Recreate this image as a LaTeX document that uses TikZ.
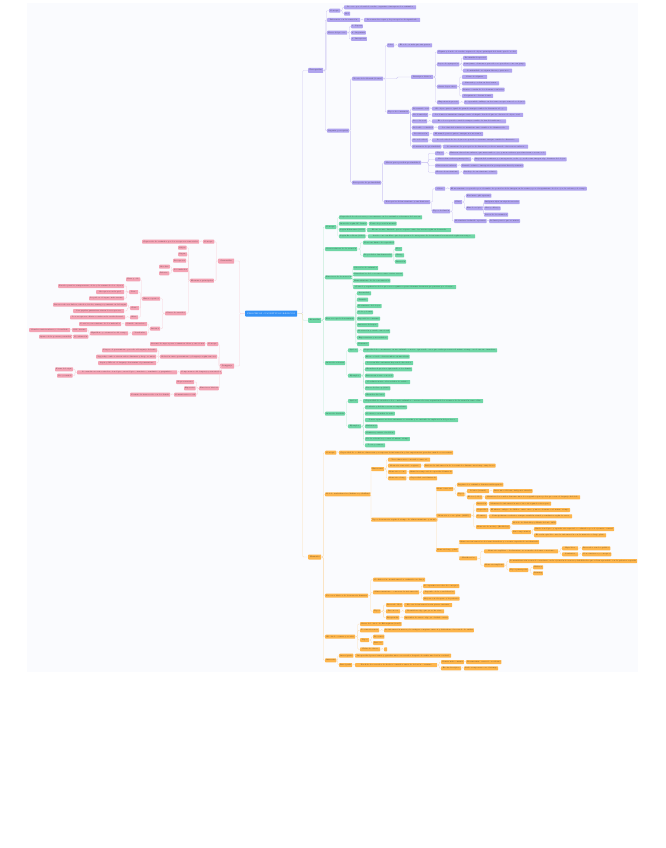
\documentclass[tikz,border=0pt]{standalone}
\usepackage{fontspec}
\usetikzlibrary{calc}
\definecolor{pufill}{HTML}{B0A4EE}
\definecolor{puline}{HTML}{CDC6F2}
\definecolor{grfill}{HTML}{6FD6A6}
\definecolor{grline}{HTML}{BDEBD5}
\definecolor{orfill}{HTML}{FDB54C}
\definecolor{orline}{HTML}{FCDDB0}
\definecolor{pkfill}{HTML}{F3A3B4}
\definecolor{pkline}{HTML}{F8D0D8}
\definecolor{cfill}{HTML}{3391F6}
\definecolor{bgc}{HTML}{FAFBFE}
\tikzset{
  bx/.style={rectangle, rounded corners=0.6pt, inner xsep=0.8pt, inner ysep=0pt,
    minimum height=4pt, anchor=west, font=\fontsize{1.7}{2}\selectfont},
  rt/.style={minimum height=5pt, font=\fontsize{1.9}{2.2}\selectfont},
  pu/.style={fill=pufill, text=pufill!30!black},
  gr/.style={fill=grfill, text=grfill!30!black},
  or/.style={fill=orfill, text=orfill!30!black},
  pk/.style={fill=pkfill, text=pkfill!30!black},
  lk/.style={line width=0.35pt, rounded corners=1pt},
  lpu/.style={lk, draw=puline},
  lgr/.style={lk, draw=grline},
  lor/.style={lk, draw=orline},
  lpk/.style={lk, draw=pkline}
}
\newcommand\nd[6][]{\pgfmathsetmacro\ndw{#4-#3}\node[bx,#1,minimum width=\ndw pt] (#2) at (#3,#5) {#6};}
\newcommand\lr[3][]{\draw[#1] (#2.east) let \p1=(#2.east), \p2=(#3.west) in -- ({(\x1+\x2)/2},\y1) |- (#3.west);}
\newcommand\lL[3][]{\draw[#1] (#2.west) let \p1=(#2.west), \p2=(#3.east) in -- ({(\x1+\x2)/2},\y1) |- (#3.east);}
\newcommand\kids[3][]{\foreach \kk in {#3}{\lr[#1]{#2}{\kk}}}
\newcommand\kidsl[3][]{\foreach \kk in {#3}{\lL[#1]{#2}{\kk}}}
\begin{document}
\begin{tikzpicture}[x=1pt,y=-1pt]
\useasboundingbox (0,0) rectangle (665,848);
\fill[bgc] (27,3) rectangle (638,672);
% central
\node[bx, fill=cfill, text=white, minimum width=52pt, minimum height=6pt, font=\fontsize{2.1}{2.5}\selectfont] (c) at (245,313.5) {PROCESOS COGNITIVOS BÁSICOS};
% ================= PURPLE
\nd[pu,rt]{p0}{308}{323}{70.5}{Percepción}
\nd[pu]{p1}{329}{339}{10.7}{Concepto}
\nd[pu]{p1a}{344}{416}{7.3}{Proceso por el cual el cerebro organiza e interpreta los estímulos}
\nd[pu]{p1b}{344}{350}{13.7}{Rol}
\nd[pu]{p2}{327}{360}{20}{Diferencia con la sensación}
\nd[pu]{p2a}{364}{420}{20}{La sensación capta y la percepción da significado}
\nd[pu]{p3}{327}{347}{32.7}{Fases del proceso}
\nd[pu]{p3a}{351}{362}{26.3}{1. Captar}
\nd[pu]{p3b}{351}{364}{32.7}{2. Organizar}
\nd[pu]{p3c}{351}{366}{39}{3. Interpretar}
\nd[pu]{p4}{327}{348}{130.7}{Organiz. perceptiva}
\nd[pu]{p41}{352}{383}{78.7}{Teoría de la Gestalt (forma)}
\nd[pu]{p411}{387}{394}{45.3}{Idea}
\nd[pu]{p411a}{398}{432}{45.3}{El todo es más que sus partes}
\nd[pu]{p412}{411}{433}{77}{Principios básicos}
\nd[pu]{p4121}{437}{517}{52}{Figura y fondo: el cerebro separa el objeto principal del fondo que lo rodea}
\nd[pu]{p4122}{437}{459}{64.3}{Leyes de agrupación}
\nd[pu]{p41221}{463}{487}{58}{Proximidad espacial}
\nd[pu]{p41222}{463}{524}{64.3}{Semejanza: elementos parecidos se perciben como un grupo}
\nd[pu]{p41223}{463}{512}{70.7}{Continuidad: se siguen líneas y patrones}
\nd[pu]{p4123}{437}{457}{86.7}{Otras leyes clave}
\nd[pu]{p41231}{462}{487}{77}{Cierre de figuras}
\nd[pu]{p41232}{462}{499}{83.3}{Simetría y orden en las formas}
\nd[pu]{p41233}{462}{504}{89.7}{Destino común de los elementos móviles}
\nd[pu]{p41234}{462}{493}{96}{Pregnancia o buena forma}
\nd[pu]{p4124}{437}{459}{102.3}{Experiencia previa}
\nd[pu]{p4124a}{464}{525}{102.3}{Lo aprendido influye en la forma en que vemos los objetos}
\nd[pu]{p413}{387}{407}{112}{Tipos de constancia}
\nd[pu]{p4131}{412}{428}{108.7}{De tamaño real}
\nd[pu]{p4131x}{432}{507}{108.7}{El objeto parece igual de grande aunque cambie la distancia al ojo}
\nd[pu]{p4132}{412}{428}{115}{De forma fija}
\nd[pu]{p4132x}{432}{523}{115}{La forma se mantiene aunque varíe el ángulo desde el que se observa el objeto real}
\nd[pu]{p4133}{412}{427}{121.3}{De color real}
\nd[pu]{p4133x}{432}{506}{121.3}{El color se percibe estable aunque cambie la luz del ambiente}
\nd[pu]{p4134}{412}{433}{127.7}{De brillo o claridad}
\nd[pu]{p4134x}{438}{509}{127.7}{La claridad relativa se mantiene ante cambios de iluminación}
\nd[pu]{p4135}{412}{429}{134}{De ubicación}
\nd[pu]{p4135x}{433}{483}{134}{El mundo parece quieto aunque nos movamos}
\nd[pu]{p4136}{412}{428}{140.3}{De velocidad}
\nd[pu]{p4136x}{432}{519}{140.3}{La velocidad de los objetos se percibe constante aunque cambie la distancia}
\nd[pu]{p4137}{412}{439}{146.7}{Constancia de profundidad}
\nd[pu]{p4137x}{443}{528}{146.7}{Se mantiene la percepción de distancia y relieve usando claves monoculares}
\nd[pu]{p42}{352}{380}{182.7}{Percepción de profundidad}
\nd[pu]{p421}{384}{421}{162.7}{Claves para percibir profundidad}
\nd[pu]{p4211}{435}{444}{153.3}{Tipos}
\nd[pu]{p4211x}{449}{546}{153.3}{Existen claves binoculares, que usan ambos ojos, y monoculares, que funcionan con uno solo}
\nd[pu]{p4212}{435}{471}{159.3}{Claves binoculares principales}
\nd[pu]{p4212x}{474}{566}{159.3}{Disparidad retiniana y convergencia: cada ojo recibe una imagen algo distinta del objeto}
\nd[pu]{p4213}{435}{457}{165.7}{Claves monoculares}
\nd[pu]{p4213x}{461}{523}{165.7}{Tamaño relativo, interposición, perspectiva lineal y textura}
\nd[pu]{p4214}{435}{459}{172.3}{Claves de movimiento}
\nd[pu]{p4214x}{463}{497}{172.3}{Paralaje de movimiento relativo}
\nd[pu]{p422}{384}{430}{202}{Percepción del movimiento y sus ilusiones}
\nd[pu]{p4221}{435}{445}{188.7}{Clave}
\nd[pu]{p4221x}{450}{586}{188.7}{El movimiento se percibe por el cambio de posición de la imagen en la retina y por el seguimiento de los ojos, la cabeza y el cuerpo}
\nd[pu]{p4222}{432}{450}{211.3}{Tipos de ilusión}
\nd[pu]{p42221}{454}{462}{202}{Clase}
\nd[pu]{p422211}{466}{489}{195.7}{Fenómeno phi aparente}
\nd[pu]{p422212}{466}{482}{208.3}{Estroboscópico}
\nd[pu]{p4222121}{484}{519}{202}{Imágenes fijas en rápida sucesión}
\nd[pu]{p4222122}{484}{500}{208.3}{Cine y dibujos}
\nd[pu]{p4222123}{484}{508}{214.7}{Luces de los anuncios}
\nd[pu]{p42222}{454}{484}{221}{Movimiento inducido aparente}
\nd[pu]{p42222x}{489}{517}{221}{La luna parece que se mueve}
% ================= GREEN
\nd[gr,rt]{g0}{308}{321}{320.3}{Atención}
\nd[gr]{g1}{325}{336}{227}{Concepto}
\nd[gr]{g1a}{339}{422}{217.3}{Capacidad de seleccionar y concentrarse en los estímulos relevantes del entorno}
\nd[gr]{g1b}{339}{365}{223.7}{Atención según W. James}
\nd[gr]{g1bx}{369}{394}{223.7}{Toma de posesión mental}
\nd[gr]{g1c}{339}{363}{230}{Según Kahneman (1973)}
\nd[gr]{g1cx}{367}{451}{230}{Es un recurso limitado que se reparte entre las tareas según su demanda}
\nd[gr]{g1d}{339}{363}{236.3}{Según Broadbent (1958)}
\nd[gr]{g1dx}{368}{475}{236.3}{Actúa como un filtro que deja pasar solo una parte de la información sensorial según sus rasgos}
\nd[gr]{g2}{325}{357}{249}{Características de la atención}
\nd[gr]{g2a}{363}{394}{242.7}{Tiene un límite de capacidad}
\nd[gr]{g2b}{363}{391}{255.3}{Propiedades fundamentales}
\nd[gr]{g2b1}{395}{402}{249}{Foco}
\nd[gr]{g2b2}{395}{404}{255.3}{Rango}
\nd[gr]{g2b3}{395}{405}{261.7}{Duración}
\nd[gr]{g3}{325}{349}{277.3}{Funciones de la atención}
\nd[gr]{g3a}{353}{378}{268}{Selección de estímulos}
\nd[gr]{g3b}{353}{403}{274.3}{Distribución de los recursos entre varias tareas}
\nd[gr]{g3c}{353}{387}{280.7}{Mantenimiento de la concentración}
\nd[gr]{g3d}{353}{456}{287}{Control y regulación de los procesos cognitivos para alcanzar las metas propuestas por el sujeto}
\nd[gr]{g4}{325}{353}{318.7}{Factores que la determinan}
\nd[gr]{g4a}{357}{371}{293.3}{Intensidad}
\nd[gr]{g4b}{357}{368}{299.7}{Tamaño}
\nd[gr]{g4c}{357}{379}{306}{Movimiento del objeto}
\nd[gr]{g4d}{357}{372}{312.3}{Color y forma}
\nd[gr]{g4e}{357}{379}{318.7}{Repetición constante}
\nd[gr]{g4f}{357}{378}{325}{Intereses del sujeto}
\nd[gr]{g4g}{357}{388}{331.3}{Motivación y estado emocional}
\nd[gr]{g4h}{357}{388}{337.7}{Expectativas y necesidades}
\nd[gr]{g4i}{357}{369}{344}{Cansancio}
\nd[gr]{g5}{325}{344}{363}{Atención selectiva}
\nd[gr]{g5a}{348}{358}{350.3}{Qué es}
\nd[gr]{g5ax}{363}{493}{350.3}{Capacidad de concentrarse en un estímulo concreto ignorando otros que están presentes al mismo tiempo en el entorno inmediato}
\nd[gr]{g5b}{348}{361}{375.7}{Ejemplos}
\nd[gr]{g5b1}{365}{407}{356.7}{Efecto cóctel: oír tu nombre en una fiesta}
\nd[gr]{g5b2}{365}{413}{363}{Leer un libro mientras hay ruido alrededor}
\nd[gr]{g5b3}{365}{412}{369.3}{Escuchar al profesor ignorando a los demás}
\nd[gr]{g5b4}{365}{393}{375.7}{Buscar un rostro conocido}
\nd[gr]{g5b5}{365}{410}{382}{Conducir atento a las señales de tráfico}
\nd[gr]{g5b6}{365}{387}{388.3}{Tarea de Stroop (1935)}
\nd[gr]{g5b7}{365}{385}{394.7}{Escucha dicótica}
\nd[gr]{g6}{325}{344}{413.7}{Atención dividida}
\nd[gr]{g6a}{348}{358}{401}{Qué es}
\nd[gr]{g6ax}{363}{483}{401}{Capacidad de atender a dos o más estímulos o tareas a la vez, repartiendo los recursos de la atención entre ellas}
\nd[gr]{g6b}{348}{361}{426.3}{Ejemplos}
\nd[gr]{g6b1}{365}{402}{407.3}{Conducir y hablar con un acompañante}
\nd[gr]{g6b2}{365}{392}{413.7}{Cocinar y escuchar la radio}
\nd[gr]{g6b3}{365}{458}{420}{Tomar apuntes en clase mientras se escucha y se entiende la explicación del profesor}
\nd[gr]{g6b4}{365}{376}{426.3}{Multitarea}
\nd[gr]{g6b5}{365}{395}{432.7}{Caminar y mirar el teléfono}
\nd[gr]{g6b6}{365}{408}{439}{Ver la televisión y comer al mismo tiempo}
\nd[gr]{g6b7}{365}{385}{445.3}{Tocar y cantar}
% ================= ORANGE
\nd[or,rt]{m0}{308}{321}{557}{Memoria}
\nd[or]{m1}{325}{335}{452.7}{Concepto}
\nd[or]{m1a}{339}{453}{452.7}{Capacidad de codificar, almacenar y recuperar la información y las experiencias pasadas cuando se necesitan}
\nd[or]{m2}{325}{367}{494.3}{Modelo multialmacén (Atkinson y Shiffrin)}
\nd[or]{m21}{371}{384}{469}{Estructura}
\nd[or]{m21a}{388}{430}{459.7}{Tres almacenes conectados entre sí}
\nd[or]{m21b}{388}{421}{465.7}{Memoria sensorial o registro}
\nd[or]{m21bx}{424}{492}{465.7}{Retiene la información de los sentidos durante un tiempo muy breve}
\nd[or]{m21c}{388}{405}{472}{Memoria a corto}
\nd[or]{m21cx}{409}{447}{472}{Almacén temporal de capacidad limitada}
\nd[or]{m21d}{388}{405}{478.3}{Memoria a largo}
\nd[or]{m21dx}{409}{437}{478.3}{Capacidad casi ilimitada}
\nd[or]{m22}{371}{433}{519.7}{Tipos de memoria según el tiempo de almacenamiento y su uso}
\nd[or]{m221}{436}{453}{489}{Mem. sensorial}
\nd[or]{m221a}{457}{502}{484.7}{Registra los estímulos durante milisegundos}
\nd[or]{m221b}{457}{463}{494.3}{Tipos}
\nd[or]{m221b1}{467}{489}{491}{Icónica (visual)}
\nd[or]{m221b1x}{493}{532}{491}{Dura unos 250 ms, imágenes visuales}
\nd[or]{m221b2}{467}{482}{497.3}{Ecoica (oído)}
\nd[or]{m221b2x}{485}{580}{497.3}{Mantiene los sonidos durante unos dos segundos para poder procesar el lenguaje hablado}
\nd[or]{m222}{436}{471}{515.7}{Memoria a corto plazo (MCP)}
\nd[or]{m222a}{476}{486}{503.7}{Duración}
\nd[or]{m222ax}{489}{551}{503.7}{Mantiene la información unos 18 a 30 segundos sin repaso}
\nd[or]{m222b}{476}{487}{510}{Capacidad}
\nd[or]{m222bx}{490}{569}{510}{El número mágico de Miller: entre cinco y nueve elementos al mismo tiempo}
\nd[or]{m222c}{476}{487}{516.3}{Formato}
\nd[or]{m222cx}{489}{572}{516.3}{Principalmente acústica, aunque también visual y semántica según la tarea}
\nd[or]{m222d}{476}{507}{527}{Memoria de trabajo (Baddeley)}
\nd[or]{m222d1}{512}{552}{522.7}{Modelo de Baddeley y Hitch del año 1974}
\nd[or]{m222d2}{512}{530}{532}{Sus componentes}
\nd[or]{m222d2a}{534}{614}{529}{Bucle fonológico y agenda visoespacial, coordinados por el ejecutivo central}
\nd[or]{m222d2b}{534}{606}{535.3}{El retén episódico une la información con la memoria a largo plazo}
\nd[or]{m223}{436}{455}{550}{Memoria largo plazo}
\nd[or]{m223a}{459}{534}{542}{Almacena información de forma duradera y con una capacidad casi ilimitada}
\nd[or]{m223b}{459}{477}{558.3}{Clasificación}
\nd[or]{m223b1}{484}{558}{551.3}{Memoria explícita o declarativa: se recuerda de forma consciente}
\nd[or]{m223b1a}{562}{578}{548.3}{Episódica}
\nd[or]{m223b1ax}{582}{608}{548.3}{Recuerdos autobiográficos}
\nd[or]{m223b1b}{562}{578}{554.3}{Semántica}
\nd[or]{m223b1bx}{582}{610}{554.3}{Conocimientos y conceptos}
\nd[or]{m223b2}{484}{504}{565.3}{Memoria implícita}
\nd[or]{m223b2a}{509}{635}{561}{Se manifiesta sin recuerdo consciente, en la ejecución de tareas y habilidades que se han aprendido con la práctica repetida}
\nd[or]{m223b2b}{509}{528}{570}{Tipos principales}
\nd[or]{m223b2b1}{533}{543}{567.3}{Hábitos}
\nd[or]{m223b2b2}{533}{542}{573.3}{Priming}
\nd[or]{m3}{325}{368}{595.7}{Procesos básicos de la memoria humana}
\nd[or]{m3a}{373}{425}{579.7}{Codificación: transformar los estímulos en datos}
\nd[or]{m3b}{373}{419}{592.3}{Almacenamiento: conservar la información}
\nd[or]{m3b1}{423}{459}{586}{Se organiza en redes de conceptos}
\nd[or]{m3b2}{423}{455}{592.3}{Depende de la consolidación}
\nd[or]{m3b3}{423}{457}{598.7}{Mejora con el repaso y la práctica}
\nd[or]{m3c}{373}{380}{611.3}{Tipos}
\nd[or]{m3c1}{386}{400}{605}{Recuerdo libre}
\nd[or]{m3c1x}{404}{452}{605}{Evocar la información sin pistas externas}
\nd[or]{m3c2}{386}{400}{611.3}{Reconocer}
\nd[or]{m3c2x}{405}{444}{611.3}{Identificar algo que ya se ha visto}
\nd[or]{m3c3}{386}{399}{617.7}{Reaprender}
\nd[or]{m3c3x}{404}{447}{617.7}{Aprender de nuevo algo ya olvidado antes}
\nd[or]{m4}{325}{355}{636.7}{El olvido: causas y teorías}
\nd[or]{m4a}{360}{399}{624}{Curva del olvido de Ebbinghaus (1885)}
\nd[or]{m4b}{360}{379}{630.3}{Por interferencia}
\nd[or]{m4bx}{384}{470}{630.3}{La información nueva y la antigua compiten entre sí y dificultan el recuerdo de ambas}
\nd[or]{m4c}{360}{369}{640}{Tipos}
\nd[or]{m4c1}{373}{383}{636.7}{Proactiva}
\nd[or]{m4c2}{373}{382}{643}{Retroac.}
\nd[or]{m4d}{360}{380}{649.3}{Falta de claves}
\nd[or]{m4dx}{384}{387}{649.3}{}
\nd[or]{m5}{325}{335}{660.3}{Amnesias}
\nd[or]{m5a}{339}{352}{655.7}{Anterógrada}
\nd[or]{m5ax}{355}{451}{655.7}{Incapacidad para formar y guardar nuevos recuerdos después de sufrir una lesión cerebral}
\nd[or]{m5b}{339}{352}{665}{Retrógrada}
\nd[or]{m5bx}{355}{437}{665}{Pérdida de recuerdos de hechos ocurridos antes de la lesión o trauma}
\nd[or]{m5bx1}{441}{462}{662}{Causas más comunes}
\nd[or]{m5bx1x}{466}{499}{662}{Traumatismo craneal o accidente}
\nd[or]{m5bx2}{441}{461}{668.3}{Evolución típica}
\nd[or]{m5bx2x}{464}{497}{668.3}{Suele recuperarse con el tiempo}
% ================= PINK (left)
\nd[pk,rt]{s0}{218}{234}{261}{Sensación}
\nd[pk]{s1}{203}{214}{241.7}{Concepto}
\nd[pk]{s1a}{142}{199}{241.7}{Captación de estímulos por los receptores sensoriales}
\nd[pk]{s2}{190}{213}{280.7}{Elementos principales}
\nd[pk]{s2a}{178}{186}{247.7}{Objeto}
\nd[pk]{s2b}{178}{186}{254.3}{Órgano}
\nd[pk]{s2c}{173}{186}{260.7}{Receptores}
\nd[pk]{s2d}{173}{186}{270}{Los umbrales}
\nd[pk]{s2d1}{159}{168}{266.7}{Absoluto}
\nd[pk]{s2d2}{159}{168}{273.3}{Relativo}
\nd[pk]{s2e}{165}{186}{313.3}{Clases de sentidos}
\nd[pk]{s2e1}{142}{160}{298.7}{Exteroceptivos}
\nd[pk]{s2e1a}{126}{139}{279.3}{Vista y oído}
\nd[pk]{s2e1b}{129}{138}{292}{Tacto}
\nd[pk]{s2e1b1}{58}{124}{286}{Percibe presión, temperatura, dolor y la textura de los objetos}
\nd[pk]{s2e1b2}{96}{124}{292}{Receptores en la piel}
\nd[pk]{s2e1b3}{89}{124}{298.3}{La piel es el órgano más extenso}
\nd[pk]{s2e1c}{130}{139}{308}{Gusto}
\nd[pk]{s2e1c1}{53}{124}{304.7}{Detecta sabores dulces, salados, ácidos, amargos y umami en la lengua}
\nd[pk]{s2e1c2}{73}{124}{311}{Las papilas gustativas tienen los receptores}
\nd[pk]{s2e1d}{130}{138}{317.3}{Olfato}
\nd[pk]{s2e1d1}{70}{125}{317.3}{Los receptores olfativos están en la cavidad nasal}
\nd[pk]{s2e2}{150}{160}{328.7}{Internos}
\nd[pk]{s2e2a}{125}{147}{324}{Sentido cinestésico}
\nd[pk]{s2e2ax}{79}{121}{324}{Posición y movimiento de los músculos}
\nd[pk]{s2e2b}{132}{147}{333.3}{Vestibular}
\nd[pk]{s2e2bx}{90}{128}{333.3}{Equilibrio y orientación del cuerpo}
\nd[pk]{s2e2bx1}{72}{87}{330}{Oído interno}
\nd[pk]{s2e2bx1x}{29}{70}{330}{Canales semicirculares y el vestíbulo}
\nd[pk]{s2e2bx2}{73}{87}{336.7}{Coordinación}
\nd[pk]{s2e2bx2x}{39}{68}{336.7}{Ajuste de la postura y marcha}
\nd[pk,rt]{l0}{220}{234}{366}{Lenguaje}
\nd[pk]{l1}{207}{217}{344}{Concepto}
\nd[pk]{l1a}{150}{203}{344}{Sistema de signos para comunicar ideas y emociones}
\nd[pk]{l2}{160}{217}{356.7}{Relación entre pensamiento y lenguaje según autores}
\nd[pk]{l2a}{102}{157}{350.3}{Piaget: el pensamiento precede al lenguaje del niño}
\nd[pk]{l2b}{96}{156}{356.7}{Vygotsky: ambos tienen raíces distintas y luego se unen}
\nd[pk]{l2c}{98}{156}{363}{Sapir y Whorf: el lenguaje determina el pensamiento}
\nd[pk]{l3}{180}{218}{372.3}{Componentes del lenguaje y sus niveles}
\nd[pk]{l3x}{77}{177}{372.3}{Se estudia en varios niveles: fonológico, morfológico, sintáctico, semántico y pragmático}
\nd[pk]{l3x1}{55}{72}{369.3}{Forma del signo}
\nd[pk]{l3x2}{57}{72}{375.7}{Uso y sentido}
\nd[pk]{l4}{199}{217}{388.3}{Funciones básicas}
\nd[pk]{l4a}{176}{194}{382}{Representativa}
\nd[pk]{l4b}{184}{194}{388.3}{Expresiva}
\nd[pk]{l4c}{174}{194}{394.7}{Comunicativa social}
\nd[pk]{l4cx}{130}{170}{394.7}{Permite la interacción con los demás}
% ================= LINKS
\lr[lpu]{c}{p0}
\lr[lgr]{c}{g0}
\lr[lor]{c}{m0}
\lL[lpk]{c}{s0}
\lL[lpk]{c}{l0}
% purple
\kids[lpu]{p0}{p1,p2,p3,p4}
\kids[lpu]{p1}{p1a,p1b}
\kids[lpu]{p2}{p2a}
\kids[lpu]{p3}{p3a,p3b,p3c}
\kids[lpu]{p4}{p41,p42}
\kids[lpu]{p41}{p411,p412,p413}
\kids[lpu]{p411}{p411a}
\kids[lpu]{p412}{p4121,p4122,p4123,p4124}
\kids[lpu]{p4122}{p41221,p41222,p41223}
\kids[lpu]{p4123}{p41231,p41232,p41233,p41234}
\kids[lpu]{p4124}{p4124a}
\kids[lpu]{p413}{p4131,p4132,p4133,p4134,p4135,p4136,p4137}
\foreach \q in {4131,4132,4133,4134,4135,4136,4137,4211,4212,4213,4214,4221,42222}{\lr[lpu]{p\q}{p\q x}}
\kids[lpu]{p42}{p421,p422}
\kids[lpu]{p421}{p4211,p4212,p4213,p4214}
\kids[lpu]{p422}{p4221,p4222}
\kids[lpu]{p4222}{p42221,p42222}
\kids[lpu]{p42221}{p422211,p422212}
\kids[lpu]{p422212}{p4222121,p4222122,p4222123}
% green
\kids[lgr]{g0}{g1,g2,g3,g4,g5,g6}
\kids[lgr]{g1}{g1a,g1b,g1c,g1d}
\foreach \q in {1b,1c,1d,5a,6a}{\lr[lgr]{g\q}{g\q x}}
\kids[lgr]{g2}{g2a,g2b}
\kids[lgr]{g2b}{g2b1,g2b2,g2b3}
\kids[lgr]{g3}{g3a,g3b,g3c,g3d}
\kids[lgr]{g4}{g4a,g4b,g4c,g4d,g4e,g4f,g4g,g4h,g4i}
\kids[lgr]{g5}{g5a,g5b}
\kids[lgr]{g5b}{g5b1,g5b2,g5b3,g5b4,g5b5,g5b6,g5b7}
\kids[lgr]{g6}{g6a,g6b}
\kids[lgr]{g6b}{g6b1,g6b2,g6b3,g6b4,g6b5,g6b6,g6b7}
% orange
\kids[lor]{m0}{m1,m2,m3,m4,m5}
\kids[lor]{m1}{m1a}
\kids[lor]{m2}{m21,m22}
\kids[lor]{m21}{m21a,m21b,m21c,m21d}
\foreach \q in {21b,21c,21d,221b1,221b2,222a,222b,222c,223b1a,223b1b,3c1,3c2,3c3,4b,4d,5a,5b,5bx1,5bx2}{\lr[lor]{m\q}{m\q x}}
\kids[lor]{m22}{m221,m222,m223}
\kids[lor]{m221}{m221a,m221b}
\kids[lor]{m221b}{m221b1,m221b2}
\kids[lor]{m222}{m222a,m222b,m222c,m222d}
\kids[lor]{m222d}{m222d1,m222d2}
\kids[lor]{m222d2}{m222d2a,m222d2b}
\kids[lor]{m223}{m223a,m223b}
\kids[lor]{m223b}{m223b1,m223b2}
\kids[lor]{m223b1}{m223b1a,m223b1b}
\kids[lor]{m223b2}{m223b2a,m223b2b}
\kids[lor]{m223b2b}{m223b2b1,m223b2b2}
\kids[lor]{m3}{m3a,m3b,m3c}
\kids[lor]{m3b}{m3b1,m3b2,m3b3}
\kids[lor]{m3c}{m3c1,m3c2,m3c3}
\kids[lor]{m4}{m4a,m4b,m4c,m4d}
\kids[lor]{m4c}{m4c1,m4c2}
\kids[lor]{m5}{m5a,m5b}
\kids[lor]{m5bx}{m5bx1,m5bx2}
% pink
\kidsl[lpk]{s0}{s1,s2}
\kidsl[lpk]{s1}{s1a}
\kidsl[lpk]{s2}{s2a,s2b,s2c,s2d,s2e}
\kidsl[lpk]{s2d}{s2d1,s2d2}
\kidsl[lpk]{s2e}{s2e1,s2e2}
\kidsl[lpk]{s2e1}{s2e1a,s2e1b,s2e1c,s2e1d}
\kidsl[lpk]{s2e1b}{s2e1b1,s2e1b2,s2e1b3}
\kidsl[lpk]{s2e1c}{s2e1c1,s2e1c2}
\kidsl[lpk]{s2e1d}{s2e1d1}
\kidsl[lpk]{s2e2}{s2e2a,s2e2b}
\kidsl[lpk]{s2e2a}{s2e2ax}
\kidsl[lpk]{s2e2b}{s2e2bx}
\kidsl[lpk]{s2e2bx}{s2e2bx1,s2e2bx2}
\kidsl[lpk]{s2e2bx1}{s2e2bx1x}
\kidsl[lpk]{s2e2bx2}{s2e2bx2x}
\kidsl[lpk]{l0}{l1,l2,l3,l4}
\kidsl[lpk]{l1}{l1a}
\kidsl[lpk]{l2}{l2a,l2b,l2c}
\kidsl[lpk]{l3}{l3x}
\kidsl[lpk]{l3x}{l3x1,l3x2}
\kidsl[lpk]{l4}{l4a,l4b,l4c}
\kidsl[lpk]{l4c}{l4cx}
\end{tikzpicture}
\end{document}
